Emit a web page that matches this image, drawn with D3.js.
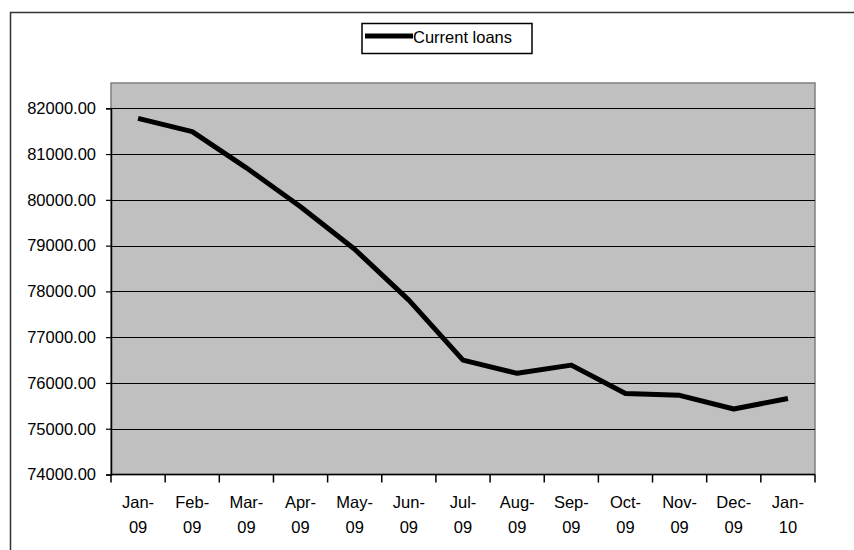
<!DOCTYPE html>
<html>
<head>
<meta charset="utf-8">
<script src="https://cdn.jsdelivr.net/npm/d3@7"></script>
<style>
  html, body { margin: 0; padding: 0; background: #fff; }
  svg { display: block; }
  text { font-family: "Liberation Sans", Arial, sans-serif; fill: #000; }
</style>
</head>
<body>
<svg id="chart" width="854" height="550"></svg>
<script>
// Monthly balance of current loans
const months = ["Jan-09", "Feb-09", "Mar-09", "Apr-09", "May-09", "Jun-09", "Jul-09",
                "Aug-09", "Sep-09", "Oct-09", "Nov-09", "Dec-09", "Jan-10"];
const currentLoans = [81780, 81490, 80700, 79850, 78920, 77810, 76500,
                      76210, 76390, 75770, 75730, 75430, 75660];
const yTicks = [74000, 75000, 76000, 77000, 78000, 79000, 80000, 81000, 82000];
const seriesName = "Current loans";

const svg = d3.select("#chart");

// plot area geometry
const plot = { left: 111, right: 815, top: 83, bottom: 474.5 };

const x = d3.scaleBand().domain(months).range([plot.left, plot.right]).padding(0);
const y = d3.scaleLinear().domain([74000, 82000]).range([plot.bottom, 108.3]);

// outer chart frame
svg.append("rect")
  .attr("x", 10.5).attr("y", 12.5).attr("width", 900).attr("height", 600)
  .attr("fill", "#fff").attr("stroke", "#333").attr("stroke-width", 1.5);

// plot area background
svg.append("rect")
  .attr("x", plot.left).attr("y", plot.top)
  .attr("width", plot.right - plot.left).attr("height", plot.bottom - plot.top)
  .attr("fill", "#c0c0c0").attr("stroke", "#808080").attr("stroke-width", 1.5);

// horizontal gridlines
svg.append("g")
  .selectAll("line")
  .data(yTicks.filter(d => d !== 74000))
  .join("line")
  .attr("x1", plot.left).attr("x2", plot.right)
  .attr("y1", d => Math.round(y(d)) + 0.5).attr("y2", d => Math.round(y(d)) + 0.5)
  .attr("stroke", "#000").attr("stroke-width", 1.2);

// y axis
const yAxis = d3.axisLeft(y)
  .tickValues(yTicks)
  .tickSize(5)
  .tickPadding(10)
  .tickFormat(d => d3.format(".2f")(d));
const gy = svg.append("g").attr("transform", `translate(${plot.left},0)`).call(yAxis);
gy.select(".domain").attr("stroke", "#000").attr("stroke-width", 1.5);
gy.selectAll(".tick line").attr("stroke", "#000").attr("stroke-width", 1.2);
gy.selectAll(".tick text")
  .attr("font-size", 16.5)
  .style("font-family", "'Liberation Sans', Arial, sans-serif")
  .attr("fill", "#000");

// x axis: ticks between categories
const boundaries = months.map(m => x(m)).concat([plot.right]);
const gx = svg.append("g");
gx.append("line")
  .attr("x1", plot.left).attr("x2", plot.right)
  .attr("y1", plot.bottom).attr("y2", plot.bottom)
  .attr("stroke", "#000").attr("stroke-width", 1.5);
gx.selectAll("line.tick")
  .data(boundaries)
  .join("line")
  .attr("class", "tick")
  .attr("x1", d => d).attr("x2", d => d)
  .attr("y1", plot.bottom).attr("y2", plot.bottom + 8)
  .attr("stroke", "#000").attr("stroke-width", 1.5);

const labels = gx.selectAll("text")
  .data(months)
  .join("text")
  .attr("text-anchor", "middle")
  .attr("font-size", 16.5)
  .attr("x", d => x(d) + x.bandwidth() / 2)
  .attr("y", 508);
labels.append("tspan").text(d => d.split("-")[0] + "-");
labels.append("tspan")
  .attr("x", d => x(d) + x.bandwidth() / 2)
  .attr("dy", 25)
  .text(d => d.split("-")[1]);

// series line
const line = d3.line()
  .x((d, i) => x(months[i]) + x.bandwidth() / 2)
  .y(d => y(d));
svg.append("path")
  .datum(currentLoans)
  .attr("d", line)
  .attr("fill", "none")
  .attr("stroke", "#000")
  .attr("stroke-width", 5)
  .attr("stroke-linejoin", "round");

// legend
const legend = svg.append("g");
legend.append("rect")
  .attr("x", 362).attr("y", 23.5).attr("width", 170).attr("height", 30)
  .attr("fill", "#fff").attr("stroke", "#000").attr("stroke-width", 1.5);
legend.append("line")
  .attr("x1", 365).attr("x2", 413).attr("y1", 36).attr("y2", 36)
  .attr("stroke", "#000").attr("stroke-width", 5);
legend.append("text")
  .attr("x", 413).attr("y", 43)
  .attr("font-size", 16.5)
  .text(seriesName);
</script>
</body>
</html>
